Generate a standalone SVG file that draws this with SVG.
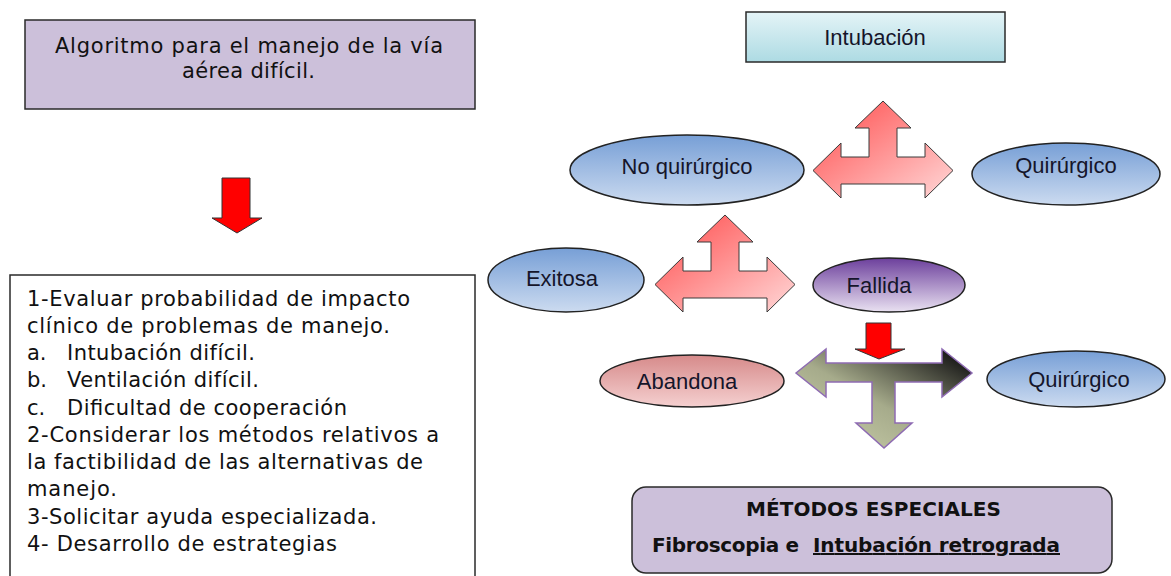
<svg xmlns="http://www.w3.org/2000/svg" width="1171" height="576" viewBox="0 0 1171 576">
<defs>
<linearGradient id="gBlue" x1="0" y1="0" x2="0" y2="1"><stop offset="0" stop-color="#779fd6"/><stop offset="1" stop-color="#ccdbf0"/></linearGradient>
<linearGradient id="gPurple" x1="0" y1="0" x2="0" y2="1"><stop offset="0" stop-color="#6c3f9c"/><stop offset="1" stop-color="#e9e1f1"/></linearGradient>
<linearGradient id="gPink" x1="0" y1="0" x2="0" y2="1"><stop offset="0" stop-color="#d68a8a"/><stop offset="1" stop-color="#f5d0d0"/></linearGradient>
<linearGradient id="gCyan" x1="0" y1="0" x2="0" y2="1"><stop offset="0" stop-color="#e4f4f7"/><stop offset="1" stop-color="#addbe3"/></linearGradient>
<linearGradient id="gRed" x1="0" y1="0" x2="1" y2="1"><stop offset="0" stop-color="#ff4a4a"/><stop offset="1" stop-color="#ffd8d8"/></linearGradient>
<linearGradient id="gGreen" x1="0.2" y1="1" x2="1" y2="0.2"><stop offset="0" stop-color="#c6cba7"/><stop offset="0.45" stop-color="#a6ab8b"/><stop offset="1" stop-color="#1e1e1c"/></linearGradient>
<style>
.box{stroke:#2a2a2a;stroke-width:1.5}
.ell{stroke:#222;stroke-width:1.5}
.lbl{font-family:"Liberation Sans",Arial,sans-serif;font-size:22px;fill:#15152a;text-anchor:middle}
.txt{font-family:"DejaVu Sans",Verdana,sans-serif;font-size:21px;fill:#111}
.ttl{font-family:"DejaVu Sans",Verdana,sans-serif;font-size:21px;fill:#111}
.bold{font-family:"DejaVu Sans",Verdana,sans-serif;font-size:20px;font-weight:bold;fill:#111}
.redA{fill:#ff0000;stroke:#333;stroke-width:1}
.tri{fill:url(#gRed);stroke:#3a3a3a;stroke-width:1}
</style>
</defs>
<rect width="1171" height="576" fill="#ffffff"/>

<g id="title">
<rect class="box" x="25" y="20" width="450" height="89" fill="#ccc0da"/>
<text class="ttl" x="55" y="53" textLength="388" lengthAdjust="spacing">Algoritmo para el manejo de la vía</text>
<text class="ttl" x="182" y="78" textLength="133" lengthAdjust="spacing">aérea difícil.</text>
</g>

<g id="steps">
<rect class="box" x="10" y="275" width="465" height="320" fill="#ffffff"/>
<text class="txt" x="27" y="306" textLength="383" lengthAdjust="spacing">1-Evaluar probabilidad de impacto</text>
<text class="txt" x="27" y="333" textLength="363" lengthAdjust="spacing">clínico de problemas de manejo.</text>
<text class="txt" x="27" y="360">a.</text><text class="txt" x="67" y="360" textLength="188" lengthAdjust="spacing">Intubación difícil.</text>
<text class="txt" x="27" y="387">b.</text><text class="txt" x="67" y="387" textLength="192" lengthAdjust="spacing">Ventilación difícil.</text>
<text class="txt" x="27" y="415">c.</text><text class="txt" x="67" y="415" textLength="280" lengthAdjust="spacing">Dificultad de cooperación</text>
<text class="txt" x="27" y="442" textLength="412" lengthAdjust="spacing">2-Considerar los métodos relativos a</text>
<text class="txt" x="27" y="469" textLength="396" lengthAdjust="spacing">la factibilidad de las alternativas de</text>
<text class="txt" x="27" y="496" textLength="90" lengthAdjust="spacing">manejo.</text>
<text class="txt" x="27" y="524" textLength="350" lengthAdjust="spacing">3-Solicitar ayuda especializada.</text>
<text class="txt" x="27" y="551" textLength="310" lengthAdjust="spacing">4- Desarrollo de estrategias</text>
</g>

<g id="intubacion">
<rect class="box" x="746" y="12" width="259" height="50" fill="url(#gCyan)"/>
<text class="lbl" x="875" y="45">Intubación</text>
</g>

<g id="noquirurgico">
<ellipse class="ell" cx="687" cy="170" rx="117" ry="35" fill="url(#gBlue)"/>
<text class="lbl" x="687" y="174">No quirúrgico</text>
</g>

<g id="quirurgico1">
<ellipse class="ell" cx="1066" cy="174" rx="94" ry="31" fill="url(#gBlue)"/>
<text class="lbl" x="1066" y="173">Quirúrgico</text>
</g>

<g id="exitosa">
<ellipse class="ell" cx="566" cy="280" rx="78" ry="32" fill="url(#gBlue)"/>
<text class="lbl" x="562" y="286">Exitosa</text>
</g>

<g id="fallida">
<ellipse class="ell" cx="889" cy="285" rx="76" ry="27" fill="url(#gPurple)"/>
<text class="lbl" x="879" y="293">Fallida</text>
</g>

<g id="abandona">
<ellipse class="ell" cx="692" cy="381" rx="92" ry="26" fill="url(#gPink)"/>
<text class="lbl" x="687" y="389">Abandona</text>
</g>

<g id="quirurgico2">
<ellipse class="ell" cx="1076" cy="379" rx="89" ry="28" fill="url(#gBlue)"/>
<text class="lbl" x="1079" y="387">Quirúrgico</text>
</g>

<g id="metodos">
<rect class="box" x="632" y="487" width="480" height="86" rx="14" ry="14" fill="#ccc0da"/>
<text class="bold" x="746" y="516" textLength="255" lengthAdjust="spacing">MÉTODOS ESPECIALES</text>
<text class="bold" x="652" y="552" textLength="147" lengthAdjust="spacing">Fibroscopia e</text>
<text class="bold" x="813" y="552" textLength="247" lengthAdjust="spacing" text-decoration="underline">Intubación retrograda</text>
</g>

<g id="connectors">
<polygon class="redA" points="222,178 250,178 250,218 262,218 237,233 212,218 222,218"/>
<polygon class="tri" points="883,101 911,128 897,128 897,157 925,157 925,143 953,170.5 925,198 925,184 841,184 841,198 813,170.5 841,143 841,157 869,157 869,128 855,128"/>
<polygon class="tri" points="725,215 753,242 739,242 739,271 767,271 767,257 795,284.5 767,312 767,298 683,298 683,312 655,284.5 683,257 683,271 711,271 711,242 697,242"/>
<polygon class="redA" points="866,323 891,323 891,349 905,349 879,359 855,349 866,349"/>
<polygon fill="url(#gGreen)" stroke="#8e6bb3" stroke-width="1.5" points="796,373 826,349 826,363 942,363 942,349 972,373 942,397 942,382 895,382 895,423 912,423 884,448 856,423 872,423 872,382 826,382 826,397"/>
</g>
</svg>
